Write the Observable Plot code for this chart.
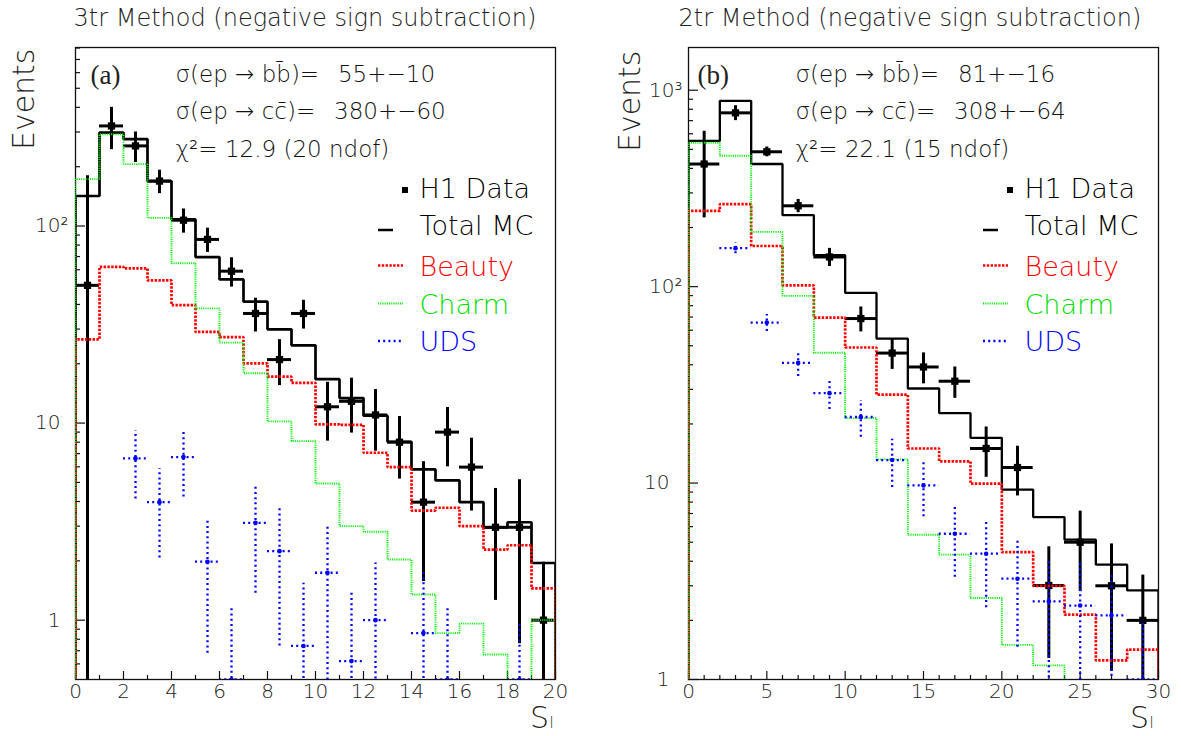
<!DOCTYPE html>
<html><head><meta charset="utf-8">
<script src="https://cdn.jsdelivr.net/npm/d3@7"></script>
<script src="https://cdn.jsdelivr.net/npm/@observablehq/plot@0.6"></script>
<style>
body{margin:0;background:#fff;}
#wrap{position:relative;width:1181px;height:736px;overflow:hidden;background:#fff;}
#wrap svg{position:absolute;top:0;}
</style></head><body><div id="wrap"></div>
<script>
// ---------- Panel (a): 3tr method ----------
const titleA = "3tr Method (negative sign subtraction)";
const tagA = "(a)";
const infoA = ["σ(ep \u2192 bb\u0304)=\u2002 55+\u221210", "σ(ep \u2192 cc\u0304)=\u2002 380+\u221260", "χ²= 12.9 (20 ndof)"];
const edgesA = [0,1,2,3,4,5,6,7,8,9,10,11,12,13,14,15,16,17,18,19,20];
const totalA = [142, 298, 276, 169, 108, 69.6, 53.6, 41.3, 29.9, 24.8, 16.7, 13.4, 10.9, 8.04, 5.82, 5.12, 3.97, 2.96, 3.14, 1.95];
const beautyA = [26.6, 62.1, 61, 53, 39.7, 29, 27.3, 20.1, 17.2, 16, 9.85, 9.8, 7.07, 5.98, 3.6, 3.72, 3.0, 2.28, 2.4, 1.45];
const charmA = [173, 292, 206, 110, 64.7, 38.2, 25.6, 17.9, 10.2, 8.1, 4.94, 3.0, 2.81, 2.03, 1.35, 0.86, 0.96, 0.67, 0.3, 1.0];
const dataA = [50, 322, 255, 169, 107, 85.5, 59, 36, 21, 36, 12.1, 12.9, 11, 8.0, 3.97, 9.0, 5.98, 2.96, 2.96, 1.0];
const dataErrA = [130, 78, 45, 23, 15, 12, 10, 7, 5.5, 6, 4, 4, 3.8, 2.8, 2.4, 3, 2.4, 1.7, 2.2, 0.97];
const udsA = [null, null, 6.62, 3.97, 6.72, 1.98, 0.3, 3.12, 2.24, 0.74, 1.74, 0.62, 1.0, null, 0.86, 0.3, null, null, 0.3, null];
const udsErrA = [null, null, 2.5, 1.9, 2.5, 1.3, 0.87, 1.75, 1.5, 0.8, 1.3, 0.76, 0.95, null, 0.95, 0.88, null, null, 0.67, null];
const xLabelsA = [0,2,4,6,8,10,12,14,16,18,20];
const xMinorA = [1,3,5,7,9,11,13,15,17,19];
const yMajorA = [1,10,100];
const yMinorA = [0.6,0.7,0.8,0.9,2,3,4,5,6,7,8,9,20,30,40,50,60,70,80,90,200,300,400,500,600,700,800];
const ySupValsA = [100], ySupTextA = ["10²"];
const yPlainValsA = [10,1], yPlainTextA = ["10","1"];

// ---------- Panel (b): 2tr method ----------
const titleB = "2tr Method (negative sign subtraction)";
const tagB = "(b)";
const infoB = ["σ(ep \u2192 bb\u0304)=\u2002 81+\u221216", "σ(ep \u2192 cc\u0304)=\u2002 308+\u221264", "χ²= 22.1 (15 ndof)"];
const edgesB = [0,2,4,6,8,10,12,14,16,18,20,22,24,26,28,30];
const totalB = [552, 883, 421, 231, 144.6, 92.9, 54.4, 30.3, 22.7, 17.0, 9.25, 6.71, 5.15, 3.84, 2.84];
const beautyB = [243, 263, 161, 101.6, 69.6, 49, 28.2, 15.0, 12.9, 9.93, 4.45, 3.0, 2.14, 1.25, 1.42];
const charmB = [540, 464, 190, 89.7, 46.1, 21.4, 13.2, 5.46, 4.32, 2.6, 1.5, 1.18, 0.5, 0.5, 0.5];
const dataB = [421, 767, 486, 258, 141.6, 68.8, 45.9, 39, 33, 15, 12, 3.01, 5.0, 3.0, 2.0];
const dataErrB = [197, 67, 28, 20, 15, 10, 8, 7, 6, 4.3, 3.4, 1.73, 2.2, 1.9, 1.4];
const udsB = [null, 157, 65.6, 40.9, 28.7, 21.7, 13.1, 9.73, 5.52, 4.37, 3.26, 2.5, 2.38, 2.12, 0.5];
const udsErrB = [null, 10, 6.5, 6, 5, 4.6, 3.6, 3, 2.2, 2.05, 1.8, 1.6, 1.5, 1.4, 1.43];
const xLabelsB = [0,5,10,15,20,25,30];
const xMinorB = [1,2,3,4,6,7,8,9,11,12,13,14,16,17,18,19,21,22,23,24,26,27,28,29];
const yMajorB = [1,10,100,1000];
const yMinorB = [2,3,4,5,6,7,8,9,20,30,40,50,60,70,80,90,200,300,400,500,600,700,800,900];
const ySupValsB = [1000,100], ySupTextB = ["10³","10²"];
const yPlainValsB = [10,1], yPlainTextB = ["10","1"];

// ---------- legend ----------
const legendLabels = ["H1 Data", "Total MC", "Beauty", "Charm", "UDS"];
const legendColors = ["#000000", "#000000", "#ff0000", "#00dd00", "#0000ff"];

const FONT = "'DejaVu Sans', sans-serif";

function stepPoints(edges, vals, ymin) {
  const pts = [{x: edges[0], y: ymin}];
  vals.forEach((v, i) => pts.push({x: edges[i], y: v}));
  pts.push({x: edges[edges.length - 1], y: vals[vals.length - 1]});
  pts.push({x: edges[edges.length - 1], y: ymin});
  return pts;
}
function errPoints(edges, vals, errs, ymin) {
  const out = [];
  vals.forEach((v, i) => {
    if (v == null) return;
    out.push({x0: edges[i], x1: edges[i + 1], xc: (edges[i] + edges[i + 1]) / 2,
      yv: Math.max(v, ymin), lo: Math.max(v - errs[i], ymin * 0.01), hi: v + errs[i]});
  });
  return out;
}

function panel(o) {
  const H = 736;
  const innerW = o.width - o.ml - o.mr, innerH = H - o.mt - o.mb;
  const ymin = o.ydomain[0];
  const dPts = errPoints(o.edges, o.data, o.dataErr, ymin);
  const uPts = errPoints(o.edges, o.uds, o.udsErr, ymin);
  const T = {lineAnchor: "middle", fill: "#222"};
  const marks = [
    Plot.frame({stroke: "#111", strokeWidth: 1.3}),
    Plot.ruleX(o.xLabels, {x: d => d, insetTop: innerH - 8, stroke: "#111", strokeWidth: 1.2}),
    Plot.ruleX(o.xMinor, {x: d => d, insetTop: innerH - 4, stroke: "#111", strokeWidth: 1.2}),
    Plot.ruleY(o.yMajor, {y: d => d, insetRight: innerW - 10, stroke: "#111", strokeWidth: 1.2}),
    Plot.ruleY(o.yMinor.filter(v => v > ymin && v < o.ydomain[1]), {y: d => d, insetRight: innerW - 5, stroke: "#111", strokeWidth: 1.2}),
    Plot.text(o.xLabels, {...T, x: d => d, text: d => String(d), frameAnchor: "bottom", dy: 12.5, fontSize: 20}),
    Plot.text(o.ySupVals, {...T, y: d => d, text: (d, i) => o.ySupText[i], frameAnchor: "left", textAnchor: "end", dx: o.supDx, fontSize: 20}),
    Plot.text(o.yPlainVals, {...T, y: d => d, text: (d, i) => o.yPlainText[i], frameAnchor: "left", textAnchor: "end", dx: o.plainDx, fontSize: 20}),
    Plot.text([o.title], {...T, frameAnchor: "top-left", textAnchor: "start", dx: o.titleDx, dy: -29.5, fontSize: 24}),
    Plot.text(["Events"], {...T, frameAnchor: "top-left", textAnchor: "end", rotate: -90, dx: o.evDx, dy: o.evDy, fontSize: 30}),
    Plot.text(["S"], {...T, frameAnchor: "bottom-right", textAnchor: "end", dx: o.sDx, dy: 39, fontSize: 30}),
    Plot.text(["l"], {...T, frameAnchor: "bottom-right", textAnchor: "start", dx: o.sDx + 0.5, dy: 44, fontSize: 15}),
    Plot.text([o.tag], {...T, frameAnchor: "top-left", textAnchor: "start", dx: o.tagDx, dy: 28, fontSize: 27, fontFamily: "'Liberation Serif', serif"}),
    ...o.info.map((t, i) => Plot.text([t], {...T, fill: "#111", frameAnchor: "top-left", textAnchor: "start", dx: o.infoDx, dy: [27, 64, 102][i], fontSize: 23})),
    ...legendLabels.map((t, i) => Plot.text([t], {...T, frameAnchor: "top-left", textAnchor: "start", dx: o.legDx, dy: [142, 179, 220, 258, 295][i], fontSize: 27, fill: legendColors[i]})),
    // Total MC
    Plot.line(stepPoints(o.edges, o.total, ymin), {x: "x", y: "y", curve: "step-after", stroke: "#000", strokeWidth: o.totW, strokeLinejoin: "miter", strokeLinecap: "butt", clip: true}),
    // H1 data
    Plot.ruleX(dPts, {x: "xc", y1: "lo", y2: "hi", stroke: "#000", strokeWidth: 3, clip: true}),
    Plot.ruleY(dPts, {y: "yv", x1: "x0", x2: "x1", stroke: "#000", strokeWidth: 3, clip: true}),
    Plot.dot(dPts, {x: "xc", y: "yv", symbol: "square", r: 4.1, fill: "#000", stroke: "none", clip: true}),
    // Beauty
    Plot.line(stepPoints(o.edges, o.beauty, ymin), {x: "x", y: "y", curve: "step-after", stroke: "#ff0000", strokeWidth: 2.7, strokeDasharray: "2.4,1.4", strokeLinejoin: "miter", strokeLinecap: "butt", clip: true}),
    // Charm
    Plot.line(stepPoints(o.edges, o.charm, ymin), {x: "x", y: "y", curve: "step-after", stroke: "#00ee00", strokeWidth: 1.9, strokeDasharray: "1.1,1.1", strokeLinejoin: "miter", strokeLinecap: "butt", clip: true}),
    // UDS
    Plot.ruleX(uPts, {x: "xc", y1: "lo", y2: "hi", stroke: "#0000ff", strokeWidth: 2.3, strokeDasharray: "2,3.2", clip: true}),
    Plot.ruleY(uPts, {y: "yv", x1: "x0", x2: "x1", stroke: "#0000ff", strokeWidth: 2.3, strokeDasharray: "2,3.2", clip: true}),
    Plot.dot(uPts, {x: "xc", y: "yv", r: 2.3, fill: "#0000ff", stroke: "none", clip: true})
  ];
  const svg = Plot.plot({
    width: o.width, height: H,
    marginLeft: o.ml, marginRight: o.mr, marginTop: o.mt, marginBottom: o.mb,
    x: {domain: o.xdomain, axis: null},
    y: {type: "log", domain: o.ydomain, axis: null},
    style: `font-family: ${FONT}; font-weight: 200; background: white; overflow: visible;`,
    marks
  });
  // legend samples
  const g = d3.select(svg).append("g");
  const lx = o.legSampleX;
  g.append("rect").attr("x", lx + 24).attr("y", 187).attr("width", 6).attr("height", 6).attr("fill", "#000");
  g.append("line").attr("x1", lx).attr("x2", lx + 15).attr("y1", 230).attr("y2", 230).attr("stroke", "#000").attr("stroke-width", 2.5);
  g.append("line").attr("x1", lx).attr("x2", lx + 25).attr("y1", 265.5).attr("y2", 265.5).attr("stroke", "#ff0000").attr("stroke-width", 2.7).attr("stroke-dasharray", "2.4,1.4");
  g.append("line").attr("x1", lx).attr("x2", lx + 25).attr("y1", 303.5).attr("y2", 303.5).attr("stroke", "#00ee00").attr("stroke-width", 1.9).attr("stroke-dasharray", "1.1,1.1");
  g.append("line").attr("x1", lx).attr("x2", lx + 25).attr("y1", 341).attr("y2", 341).attr("stroke", "#0000ff").attr("stroke-width", 2.3).attr("stroke-dasharray", "2,3.2");
  return svg;
}

const wrap = document.getElementById("wrap");
const svgA = panel({
  width: 590, ml: 75, mr: 35, mt: 47, mb: 57,
  xdomain: [0, 20], ydomain: [0.5, 805],
  edges: edgesA, total: totalA, beauty: beautyA, charm: charmA, data: dataA, dataErr: dataErrA, uds: udsA, udsErr: udsErrA,
  xLabels: xLabelsA, xMinor: xMinorA, yMajor: yMajorA, yMinor: yMinorA,
  ySupVals: ySupValsA, ySupText: ySupTextA, yPlainVals: yPlainValsA, yPlainText: yPlainTextA,
  supDx: -7, plainDx: -15, title: titleA, titleDx: -2, evDx: -51, evDy: 1, sDx: -6.5,
  tag: tagA, tagDx: 15, info: infoA, infoDx: 100, legDx: 344, legSampleX: 378, totW: 2.7
});
svgA.style.left = "0px";
wrap.appendChild(svgA);
const svgB = panel({
  width: 591, ml: 98, mr: 23, mt: 47, mb: 57,
  xdomain: [0, 30], ydomain: [1, 1650],
  edges: edgesB, total: totalB, beauty: beautyB, charm: charmB, data: dataB, dataErr: dataErrB, uds: udsB, udsErr: udsErrB,
  xLabels: xLabelsB, xMinor: xMinorB, yMajor: yMajorB, yMinor: yMinorB,
  ySupVals: ySupValsB, ySupText: ySupTextB, yPlainVals: yPlainValsB, yPlainText: yPlainTextB,
  supDx: -6, plainDx: -19, title: titleB, titleDx: -10, evDx: -58, evDy: 3, sDx: -9.5,
  tag: tagB, tagDx: 9, info: infoB, infoDx: 107, legDx: 336, legSampleX: 393, totW: 2.3
});
svgB.style.left = "590px";
wrap.appendChild(svgB);
</script></body></html>
